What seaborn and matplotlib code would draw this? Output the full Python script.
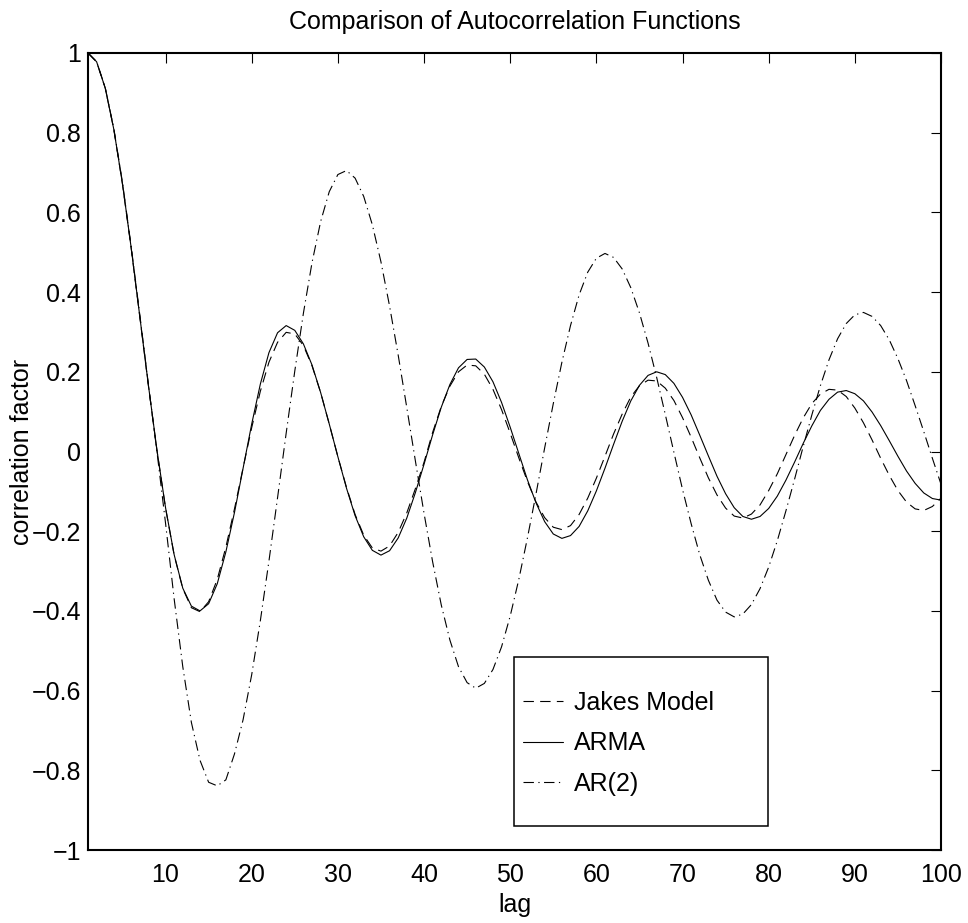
import matplotlib
matplotlib.use("Agg")
import matplotlib.pyplot as plt
from matplotlib import font_manager
from matplotlib.patches import Rectangle
import seaborn as sns
import pandas as pd

# ---------------- data ----------------
lags = list(range(1, 101))

jakes = [
    1.000, 0.978, 0.912, 0.808, 0.671, 0.512, 0.340, 0.167, 0.003, -0.142,
    -0.260, -0.344, -0.392, -0.402, -0.377, -0.321, -0.240, -0.144, -0.041, 0.060,
    0.151, 0.224, 0.274, 0.299, 0.295, 0.266, 0.215, 0.148, 0.069, -0.013,
    -0.090, -0.158, -0.210, -0.242, -0.250, -0.237, -0.203, -0.154, -0.093, -0.027,
    0.048, 0.113, 0.164, 0.200, 0.217, 0.215, 0.194, 0.156, 0.105, 0.046,
    -0.016, -0.075, -0.127, -0.166, -0.190, -0.196, -0.186, -0.158, -0.117, -0.067,
    -0.012, 0.044, 0.094, 0.137, 0.165, 0.179, 0.177, 0.159, 0.128, 0.085,
    0.036, -0.016, -0.066, -0.109, -0.142, -0.162, -0.167, -0.157, -0.134, -0.098,
    -0.056, -0.008, 0.040, 0.084, 0.120, 0.144, 0.156, 0.154, 0.138, 0.109,
    0.072, 0.029, -0.017, -0.060, -0.098, -0.127, -0.144, -0.148, -0.138, -0.117,
]

arma = [
    1.000, 0.978, 0.912, 0.808, 0.672, 0.513, 0.341, 0.168, 0.004, -0.141,
    -0.259, -0.343, -0.388, -0.400, -0.382, -0.332, -0.252, -0.153, -0.042, 0.069,
    0.169, 0.248, 0.298, 0.316, 0.304, 0.270, 0.217, 0.148, 0.069, -0.013,
    -0.092, -0.161, -0.214, -0.248, -0.260, -0.249, -0.217, -0.167, -0.103, -0.032,
    0.042, 0.111, 0.168, 0.210, 0.231, 0.232, 0.212, 0.175, 0.123, 0.061,
    -0.005, -0.071, -0.129, -0.176, -0.207, -0.218, -0.211, -0.188, -0.149, -0.099,
    -0.042, 0.018, 0.076, 0.127, 0.166, 0.191, 0.200, 0.193, 0.171, 0.136,
    0.092, 0.041, -0.011, -0.062, -0.106, -0.141, -0.163, -0.170, -0.163, -0.143,
    -0.112, -0.072, -0.027, 0.020, 0.064, 0.103, 0.131, 0.149, 0.153, 0.145,
    0.127, 0.099, 0.065, 0.027, -0.012, -0.049, -0.080, -0.104, -0.118, -0.122,
]

ar2 = [
    1.000, 0.978, 0.913, 0.810, 0.675, 0.516, 0.345, 0.170, 0.000, -0.180,
    -0.370, -0.540, -0.680, -0.775, -0.830, -0.839, -0.824, -0.759, -0.673, -0.560,
    -0.425, -0.275, -0.116, 0.046, 0.202, 0.347, 0.474, 0.577, 0.652, 0.695,
    0.705, 0.686, 0.640, 0.569, 0.476, 0.365, 0.242, 0.110, -0.024, -0.155,
    -0.277, -0.385, -0.473, -0.540, -0.580, -0.594, -0.582, -0.547, -0.490, -0.413,
    -0.321, -0.217, -0.106, 0.009, 0.120, 0.224, 0.316, 0.393, 0.450, 0.485,
    0.497, 0.487, 0.458, 0.411, 0.348, 0.272, 0.186, 0.093, -0.002, -0.095,
    -0.181, -0.259, -0.323, -0.373, -0.403, -0.415, -0.408, -0.384, -0.344, -0.290,
    -0.224, -0.149, -0.070, 0.012, 0.091, 0.165, 0.230, 0.283, 0.321, 0.343,
    0.349, 0.339, 0.316, 0.280, 0.233, 0.178, 0.115, 0.050, -0.017, -0.082,
]

series_names = ["Jakes Model", "ARMA", "AR(2)"]
xticks = [10, 20, 30, 40, 50, 60, 70, 80, 90, 100]
yticks = [-1, -0.8, -0.6, -0.4, -0.2, 0, 0.2, 0.4, 0.6, 0.8, 1]
ytick_labels = ["\u22121", "\u22120.8", "\u22120.6", "\u22120.4", "\u22120.2", "0",
                "0.2", "0.4", "0.6", "0.8", "1"]
title_text = "Comparison of Autocorrelation Functions"
xlabel_text = "lag"
ylabel_text = "correlation factor"

# ---------------- style ----------------
sns.set_theme(style="white")
names = {f.name for f in font_manager.fontManager.ttflist}
fam = "Liberation Sans Narrow" if "Liberation Sans Narrow" in names else "Liberation Sans"
plt.rcParams["font.family"] = [fam, "DejaVu Sans"]
plt.rcParams["lines.scale_dashes"] = False
FS = 18

df = pd.DataFrame({"lag": lags, series_names[0]: jakes,
                   series_names[1]: arma, series_names[2]: ar2})

fig = plt.figure(figsize=(9.68, 9.23), dpi=100)
ax = fig.add_axes([88 / 968, 1 - 850 / 923, (941 - 88) / 968, (850 - 53) / 923])
ax.set_facecolor("white")

dash_styles = [(0, (7.5, 4.5)), "-", (0, (7.5, 3.2, 0.9, 3.2))]
for name, ls in zip(series_names, dash_styles):
    sns.lineplot(data=df, x="lag", y=name, ax=ax, color="black",
                 linewidth=0.8, label=name, linestyle=ls)

ax.set_xlim(1, 100)
ax.set_ylim(-1, 1)
ax.set_xticks(xticks)
ax.set_xticklabels([str(t) for t in xticks])
ax.set_yticks(yticks)
ax.set_yticklabels(ytick_labels)
ax.tick_params(direction="in", length=7, width=0.8, top=True, right=True,
               labelsize=FS, colors="black", pad=5)
ax.tick_params(axis="x", pad=9)
for sp in ax.spines.values():
    sp.set_visible(True)
    sp.set_color("black")
    sp.set_linewidth(1.5)
ax.grid(False)

ax.set_title(title_text, fontsize=FS, pad=17, color="black")
ax.set_xlabel(xlabel_text, fontsize=FS, labelpad=5, color="black")
ax.set_ylabel(ylabel_text, fontsize=FS, labelpad=-2, color="black")

# legend (frameless) with a MATLAB-style box drawn around it
handles, labels = ax.get_legend_handles_labels()
leg = ax.legend(handles, labels, loc="upper left",
                bbox_to_anchor=((523 - 88) / 853, (850 - 691) / 797),
                frameon=False, fontsize=FS, borderpad=0, borderaxespad=0,
                handlelength=1.6, handletextpad=0.44, labelspacing=0.66)
for t in leg.get_texts():
    t.set_color("black")
ax.add_patch(Rectangle(((514 - 88) / 853, (850 - 826) / 797),
                       (768 - 514) / 853, (826 - 657) / 797,
                       transform=ax.transAxes, fill=False, edgecolor="black",
                       linewidth=1.1, zorder=5))

fig.savefig("out.png", dpi=100)
